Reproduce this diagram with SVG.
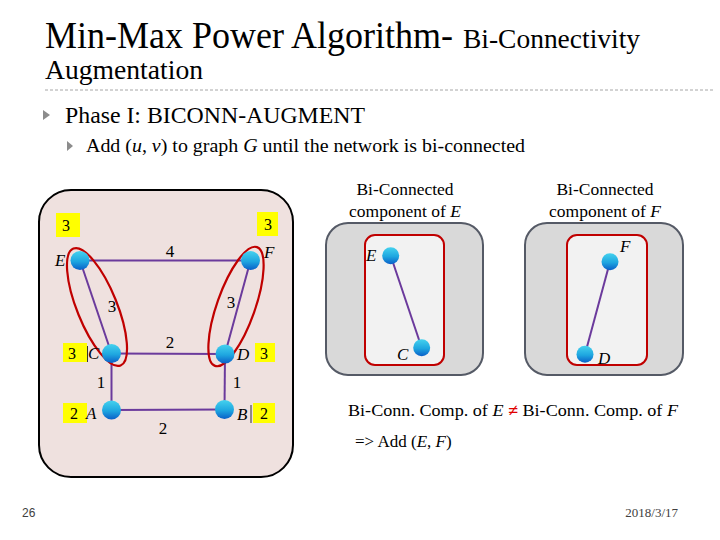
<svg xmlns="http://www.w3.org/2000/svg" width="720" height="540" viewBox="0 0 720 540">
<defs>
<linearGradient id="ball" x1="0" y1="0" x2="0" y2="1">
<stop offset="0" stop-color="#45D2EE"/>
<stop offset="0.55" stop-color="#1EA6E0"/>
<stop offset="1" stop-color="#0A5FC8"/>
</linearGradient>
<style>
.serif{font-family:"Liberation Serif","Times New Roman",serif;fill:#000}
.edge{stroke:#6B3A9C;stroke-width:2;fill:none}
.node{fill:url(#ball)}
.yb{fill:#FFFF00}
.num{font-family:"Liberation Serif",serif;font-size:16px;fill:#000;text-anchor:middle}
.w{font-family:"Liberation Serif",serif;font-size:17px;fill:#000;text-anchor:middle}
.lbl{font-family:"Liberation Serif",serif;font-size:17px;font-style:italic;fill:#000}
.ell{fill:none;stroke:#C00000;stroke-width:2.2}
.gray{fill:#D9D9D9;stroke:#555A66;stroke-width:2}
.inner{fill:#F2F2F2;stroke:#C00000;stroke-width:2}
.hd{font-family:"Liberation Serif","Times New Roman",serif;font-size:17.5px;fill:#000;text-anchor:middle}
</style>
</defs>
<rect width="720" height="540" fill="#FFFFFF"/>

<!-- Title -->
<g id="title">
<text class="serif" x="45" y="48" font-size="37" textLength="408" lengthAdjust="spacingAndGlyphs">Min-Max Power Algorithm-</text>
<text class="serif" x="463" y="48" font-size="27" textLength="177" lengthAdjust="spacingAndGlyphs">Bi-Connectivity</text>
<text class="serif" x="45" y="79" font-size="28" textLength="158" lengthAdjust="spacingAndGlyphs">Augmentation</text>
<line x1="45" y1="90" x2="715" y2="90" stroke="#A6A6A6" stroke-width="1" stroke-dasharray="3,2"/>
</g>

<g id="bullets">
<polygon points="43,110 50,115 43,120" fill="#8C8C8C"/>
<text class="serif" x="65" y="123" font-size="24" textLength="300" lengthAdjust="spacingAndGlyphs">Phase I: BICONN-AUGMENT</text>
<polygon points="67,141 73,146 67,151" fill="#8C8C8C"/>
<text class="serif" x="86" y="152" font-size="19.5" textLength="439" lengthAdjust="spacingAndGlyphs">Add (<tspan font-style="italic">u</tspan>, <tspan font-style="italic">v</tspan>) to graph <tspan font-style="italic">G</tspan> until the network is bi-connected</text>
</g>

<!-- Left panel -->
<g id="left-panel">
<rect x="39" y="190" width="254" height="287" rx="32" ry="32" fill="#EFE1DF" stroke="#000" stroke-width="2"/>
</g>

<g id="connectors">
<line class="edge" x1="80" y1="260.5" x2="250.5" y2="260.5"/>
<line class="edge" x1="80" y1="260.5" x2="111.5" y2="353.5"/>
<line class="edge" x1="250.5" y1="260.5" x2="225" y2="354"/>
<line class="edge" x1="111.5" y1="353.5" x2="225" y2="354"/>
<line class="edge" x1="111.5" y1="353.5" x2="111.5" y2="410"/>
<line class="edge" x1="225" y1="354" x2="224.5" y2="409.5"/>
<line class="edge" x1="111.5" y1="410" x2="224.5" y2="409.5"/>
<line class="edge" x1="390.7" y1="255.7" x2="421.7" y2="347.7"/>
<line class="edge" x1="610" y1="261.7" x2="585" y2="354.3"/>
</g>

<g id="weights">
<text class="w" x="170" y="257">4</text>
<text class="w" x="112" y="312">3</text>
<text class="w" x="231" y="308">3</text>
<text class="w" x="170" y="348">2</text>
<text class="w" x="101" y="388">1</text>
<text class="w" x="237" y="388">1</text>
<text class="w" x="163" y="434">2</text>
</g>

<g id="ellipses">
<ellipse class="ell" cx="97" cy="307" rx="63" ry="20" transform="rotate(68 97 307)"/>
<ellipse class="ell" cx="236" cy="306.5" rx="63" ry="19" transform="rotate(109.5 236 306.5)"/>
</g>

<g id="node-E">
<rect class="yb" x="56" y="213" width="24" height="24"/>
<text class="num" x="66" y="231">3</text>
<circle class="node" cx="80" cy="260.5" r="9.5"/>
<text class="lbl" x="55" y="266">E</text>
</g>
<g id="node-F">
<rect class="yb" x="257" y="212" width="21" height="24"/>
<text class="num" x="268" y="230">3</text>
<circle class="node" cx="250.5" cy="260.5" r="9.5"/>
<text class="lbl" x="264" y="258">F</text>
</g>
<g id="node-C">
<rect class="yb" x="63" y="343" width="24" height="19"/>
<text class="num" x="72" y="359">3</text>
<line x1="87.5" y1="346" x2="87.5" y2="362" stroke="#333" stroke-width="1"/>
<text class="lbl" x="88" y="359">C</text>
<circle class="node" cx="111.5" cy="353.5" r="9.5"/>
</g>
<g id="node-D">
<circle class="node" cx="225" cy="354" r="9.5"/>
<text class="lbl" x="237" y="360">D</text>
<rect class="yb" x="255" y="343" width="20" height="19"/>
<text class="num" x="264" y="359">3</text>
</g>
<g id="node-A">
<rect class="yb" x="63" y="403" width="24" height="20"/>
<text class="num" x="74" y="419">2</text>
<text class="lbl" x="86" y="419">A</text>
<circle class="node" cx="111.5" cy="410" r="9.5"/>
</g>
<g id="node-B">
<circle class="node" cx="224.5" cy="409.5" r="9.5"/>
<text class="lbl" x="237" y="420">B</text>
<line x1="251" y1="405" x2="251" y2="423" stroke="#333" stroke-width="1"/>
<rect class="yb" x="253" y="403" width="22" height="20"/>
<text class="num" x="264" y="419">2</text>
</g>

<!-- Right components -->
<g id="comp-E">
<text class="hd" x="405" y="195">Bi-Connected</text>
<text class="hd" x="405" y="217">component of <tspan font-style="italic">E</tspan></text>
<rect class="gray" x="326" y="223" width="157" height="152" rx="22" ry="22"/>
<rect class="inner" x="365" y="235" width="79" height="130" rx="10" ry="10"/>
</g>
<g id="comp-F">
<text class="hd" x="605" y="195">Bi-Connected</text>
<text class="hd" x="605" y="217">component of <tspan font-style="italic">F</tspan></text>
<rect class="gray" x="525" y="223" width="158" height="152" rx="22" ry="22"/>
<rect class="inner" x="567" y="235" width="80" height="130" rx="10" ry="10"/>
</g>
<g id="node-E2">
<line class="edge" x1="390.7" y1="255.7" x2="421.7" y2="347.7"/>
<circle class="node" cx="390.7" cy="255.7" r="8.5"/>
<text class="lbl" x="366" y="261">E</text>
</g>
<g id="node-C2">
<circle class="node" cx="421.7" cy="347.7" r="8.5"/>
<text class="lbl" x="397" y="360">C</text>
</g>
<g id="node-F2">
<line class="edge" x1="610" y1="261.7" x2="585" y2="354.3"/>
<circle class="node" cx="610" cy="261.7" r="8.5"/>
<text class="lbl" x="620" y="252">F</text>
</g>
<g id="node-D2">
<circle class="node" cx="585" cy="354.3" r="8.5"/>
<text class="lbl" x="598" y="364">D</text>
</g>

<g id="conclusion">
<text class="serif" x="348" y="416" font-size="17" textLength="330" lengthAdjust="spacingAndGlyphs">Bi-Conn. Comp. of <tspan font-style="italic">E</tspan> <tspan fill="#E00000" font-weight="bold">≠</tspan> Bi-Conn. Comp. of <tspan font-style="italic">F</tspan></text>
<text class="serif" x="355" y="447" font-size="17">=&gt; Add (<tspan font-style="italic">E</tspan>, <tspan font-style="italic">F</tspan>)</text>
</g>

<g id="footer">
<text x="22" y="517" font-family="Liberation Sans, Arial, sans-serif" font-size="12" fill="#404040">26</text>
<text x="678" y="517" font-family="Liberation Serif, serif" font-size="13" fill="#404040" text-anchor="end">2018/3/17</text>
</g>
</svg>
